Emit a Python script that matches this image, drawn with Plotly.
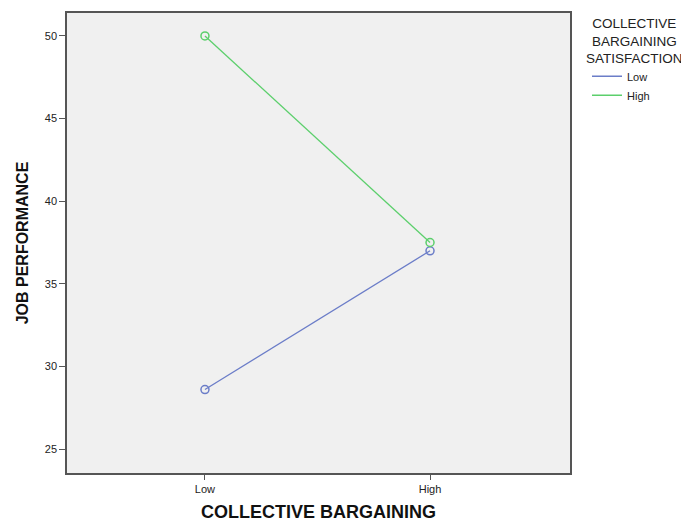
import plotly.graph_objects as go

categories = ["Low", "High"]
low_sat = [28.6, 37.0]
high_sat = [50.0, 37.5]
series_names = ["Low", "High"]
y_ticks = [25, 30, 35, 40, 45, 50]
legend_title_lines = ["COLLECTIVE", "BARGAINING", "SATISFACTION"]

colors = ["#6b7dc8", "#5ccf6c"]

# figure is offset 8px by page body margin; plot area in figure coords
L, R, T, B = 59, 562, 3, 465
W, H = 689, 521

def px(x):
    return (x - L) / (R - L)

def py(y):
    return 1 - (y - T) / (B - T)

fig = go.Figure()
for name, vals, col in zip(series_names, [low_sat, high_sat], colors):
    fig.add_trace(go.Scatter(
        x=[0, 1], y=vals, name=name, mode="lines+markers", showlegend=False,
        line=dict(color=col, width=1.3),
        marker=dict(symbol="circle-open", size=8, color=col, line=dict(width=1.5)),
    ))
    fig.add_trace(go.Scatter(
        x=[None], y=[None], name=name, mode="lines",
        line=dict(color=col, width=1.5),
    ))

font = "Liberation Sans, Arial, sans-serif"
annotations = [dict(text="<br>".join(legend_title_lines), x=px(626), y=py(31),
                    xref="paper", yref="paper", showarrow=False,
                    xanchor="center", yanchor="middle", align="center",
                    font=dict(size=13.5, family=font, color="#222"))]

fig.update_layout(
    width=W, height=H,
    margin=dict(l=L, r=W - R, t=T, b=H - B),
    paper_bgcolor="white", plot_bgcolor="#f0f0f0",
    font=dict(family=font, size=11, color="#222"),
    showlegend=True,
    legend=dict(x=px(579), y=py(52), xanchor="left", yanchor="top",
                font=dict(size=11, family=font, color="#222"),
                bgcolor="rgba(0,0,0,0)", tracegroupgap=0, itemwidth=30),
    xaxis=dict(tickmode="array", tickvals=[0, 1], ticktext=categories,
               range=[-0.613, 1.622], showgrid=False, zeroline=False,
               ticks="outside", ticklen=5, tickcolor="#555",
               showline=True, linecolor="#555", linewidth=1.5, mirror=True,
               title=dict(text="<b>COLLECTIVE BARGAINING</b>", font=dict(size=18, family=font, color="#111"), standoff=11)),
    yaxis=dict(tickmode="array", tickvals=y_ticks, range=[23.55, 51.39],
               showgrid=False, zeroline=False,
               ticks="outside", ticklen=6, tickcolor="#555",
               showline=True, linecolor="#555", linewidth=1.5, mirror=True,
               title=dict(text="<b>JOB PERFORMANCE</b>", font=dict(size=16, family=font, color="#111"), standoff=12)),
    annotations=annotations,
)
fig.write_html("out.html")
